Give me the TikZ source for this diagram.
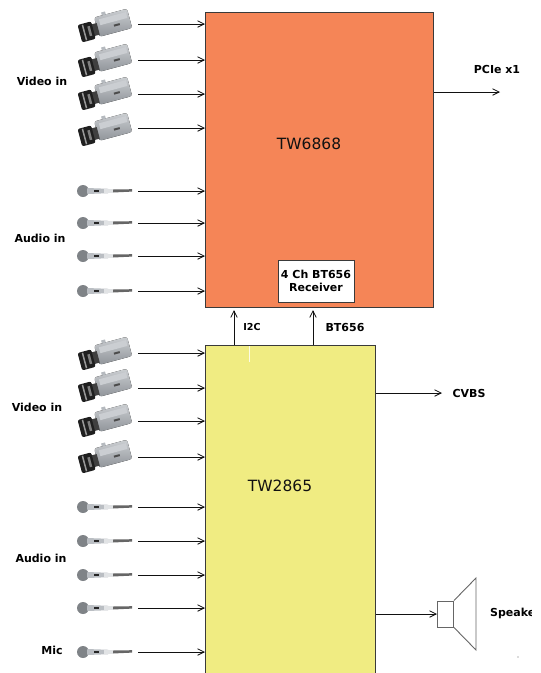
\documentclass[tikz,border=0pt]{standalone}
\usepackage{fontspec}
\setmainfont{DejaVu Sans}
\usetikzlibrary{arrows.meta,calc}
\definecolor{ink}{HTML}{111111}
\definecolor{edge}{HTML}{3A3A3A}
\definecolor{chipA}{HTML}{F58557}
\definecolor{chipB}{HTML}{F0EC82}
\definecolor{steel}{HTML}{A9AEB4}

\begin{document}
\begin{tikzpicture}[x=1pt,y=-1pt,>={Straight Barb[length=6.5pt,width=6.5pt]},font=\fontsize{11}{13}\selectfont\bfseries]
\tikzset{
  link/.style={->,ink,line width=.8pt},
  chip/.style={draw=edge,line width=1pt,inner sep=0pt,anchor=north west},
  chiplabel/.style={font=\fontsize{15.5}{18}\selectfont,ink},
  camera/.pic={
    \begin{scope}[rotate=15]
      \fill[top color=steel!60,bottom color=steel!85!black,rounded corners=2.5pt] (-8,-12) rectangle (26,8);
      \fill[steel!85] (0,-15) rectangle (4,-12);
      \fill[white!40!steel] (-4,-9) rectangle (24,-3);
      \fill[black!70] (9,0) rectangle (15,2);
      \fill[black!75] (-13,-6) rectangle (-7,6);
      \fill[black!88,rounded corners=2pt] (-26,-9) rectangle (-12,9);
      \fill[black!40] (-22,-8) rectangle (-20.5,8);
      \fill[black!50] (-17,-5) rectangle (-14.5,5);
    \end{scope}
  },
  micro/.pic={
    \fill[steel!75!black] (-22,0) circle (6);
    \fill[steel!80,rounded corners=.8pt] (-18,-3) -- (4,-2.2) -- (4,2.2) -- (-18,3) -- cycle;
    \fill[black!85] (-11,-1) rectangle (-6,1);
    \fill[steel!35] (-1,-2) rectangle (8,2);
    \fill[black!60] (8,-1.5) -- (27,-1.8) -- (27,.6) -- (8,1.5) -- cycle;
  }
}

\useasboundingbox (0,0) rectangle (541,673);
\clip (0,0) rectangle (531,673);

% The two chips.
\node[chip,fill=chipA,minimum width=228pt,minimum height=295pt] (tw6868) at (205,12) {};
\node[chiplabel] at (309,144) {TW6868};
\node[chip,fill=chipB,minimum width=170pt,minimum height=340pt] (tw2865) at (205,345) {};
\node[chiplabel] at (280,486) {TW2865};
\draw[white!80!chipB,line width=1pt] (249,346)--(249,362);

\node[draw=edge,fill=white,line width=.9pt,align=center,minimum width=76pt,minimum height=42pt,inner sep=0pt] (receiver) at (316,281) {4 Ch BT656\\Receiver};

% Inputs of the upper chip.
\foreach \n/\y/\c in {1/24/27,2/60/62,3/94/95,4/128/131}{
  \pic at (105,\c) {camera};
  \coordinate (vidA\n) at (138,\y);
  \draw[link] (vidA\n)--(vidA\n -| tw6868.west);
}
\foreach \n/\y in {1/191,2/223,3/256,4/291}{
  \pic at (105,\y) {micro};
  \coordinate (audA\n) at (138,\y);
  \draw[link] (audA\n)--(audA\n -| tw6868.west);
}
\node (videoA) at (42,81) {Video in};
\node (audioA) at (40,238) {Audio in};

% Inputs of the lower chip.
\foreach \n/\y/\c in {1/353/355,2/388/387,3/421/422,4/457/458}{
  \pic at (105,\c) {camera};
  \coordinate (vidB\n) at (138,\y);
  \draw[link] (vidB\n)--(vidB\n -| tw2865.west);
}
\foreach \n/\y in {1/507,2/541,3/575,4/608,5/652}{
  \pic at (105,\y) {micro};
  \coordinate (audB\n) at (138,\y);
  \draw[link] (audB\n)--(audB\n -| tw2865.west);
}
\node (videoB) at (37,407) {Video in};
\node (audioB) at (41,558) {Audio in};
\node (mic) at (52,650) {Mic};

% Between the chips.
\coordinate (ictop) at (234,310);
\coordinate (bttop) at (313,310);
\draw[link] (ictop |- tw2865.north)--(ictop);
\draw[link] (bttop |- tw2865.north)--(bttop);
\node[font=\fontsize{9.6}{11}\selectfont\bfseries] (ic) at (252,327) {I2C};
\node (bt) at (345,327) {BT656};

% Outputs.
\coordinate (pcieend) at (500,92);
\draw[link] (pcieend -| tw6868.east)--(pcieend);
\node (pcie) at (497,69) {PCIe x1};
\coordinate (cvbsend) at (442,393);
\draw[link] (cvbsend -| tw2865.east)--(cvbsend);
\node (cvbs) at (469,393) {CVBS};

% Speaker.
\node[draw=black!60,line width=1pt,minimum width=16pt,minimum height=26pt,inner sep=0pt,anchor=west] (coil) at (437,614) {};
\draw[black!60,line width=.9pt] (coil.north east)--(476,578)--(476,650)--(coil.south east);
\draw[link] (coil.west -| tw2865.east)--(coil.west);
\node[anchor=west,inner sep=0pt] (speaker) at (490,613) {Speaker};
\fill[black!60] (518,657) circle (.6);
\end{tikzpicture}
\end{document}
